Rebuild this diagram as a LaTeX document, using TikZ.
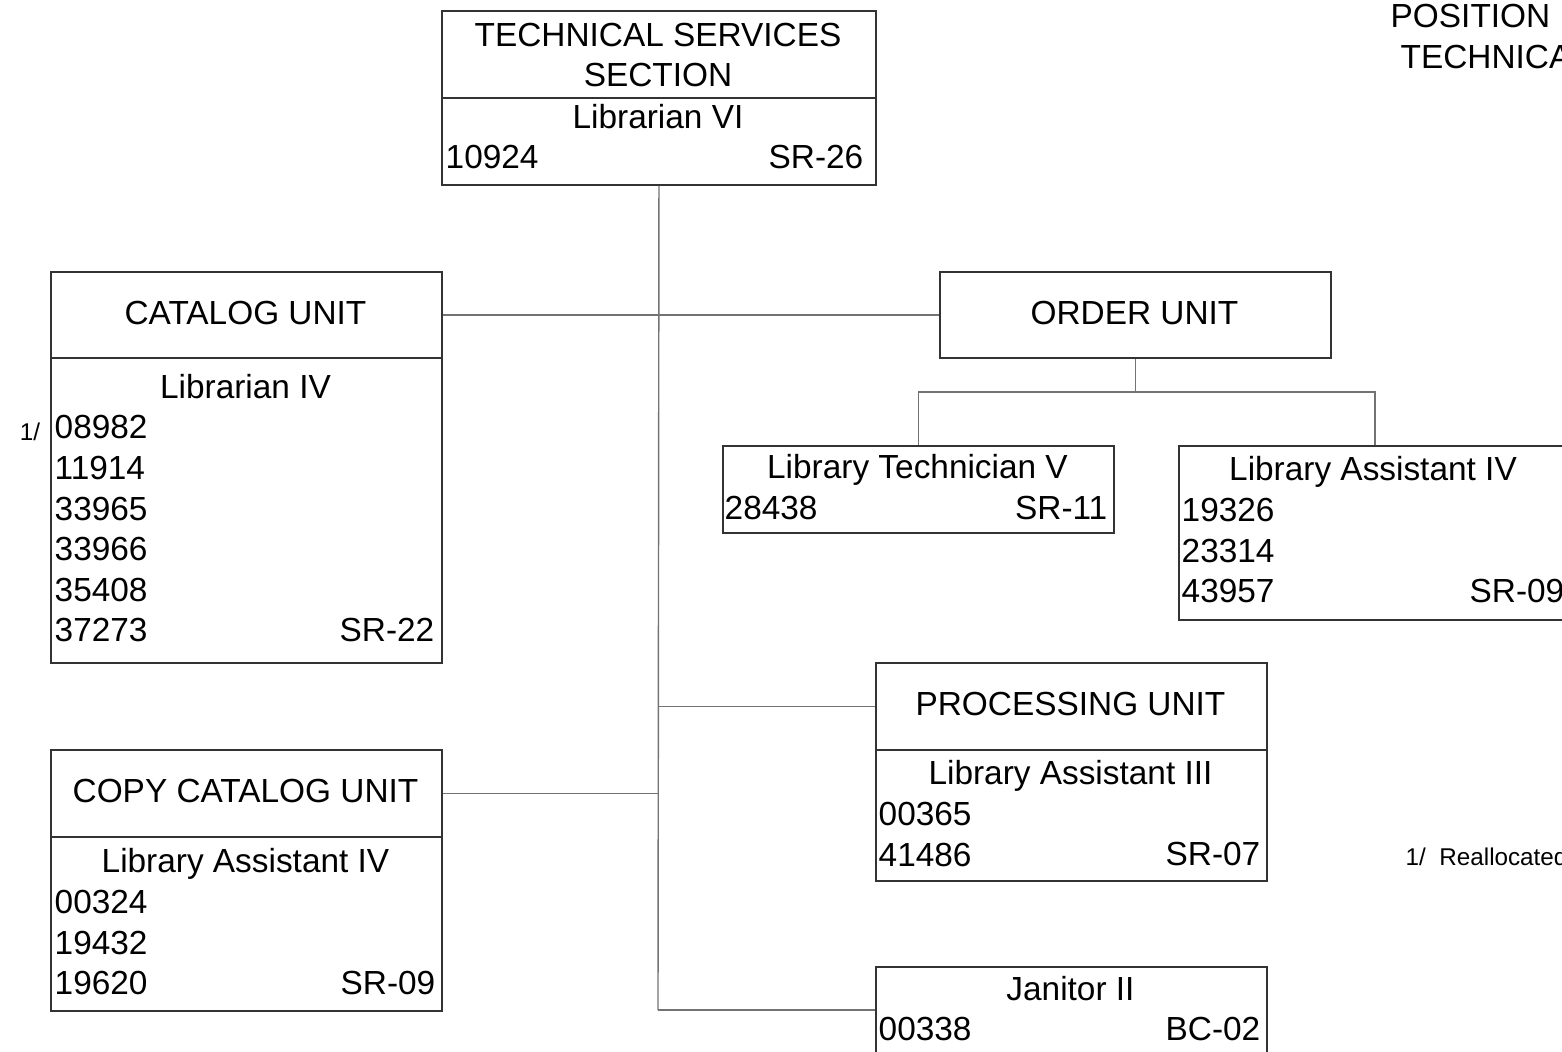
\documentclass[tikz,border=0pt]{standalone}
\usepackage{fontspec}
\setmainfont{Liberation Sans}
\tikzset{
  unitbox/.style={draw=black!80, line width=0.55pt, inner sep=0pt, anchor=north west, minimum width=39.1mm},
  link/.style={draw=black!55, line width=0.4pt},
  lbl/.style={font=\fontsize{9.5}{11}\selectfont, inner sep=0pt, text height=6.8pt, text depth=0pt},
  small/.style={font=\fontsize{6.9}{8}\selectfont, inner sep=0pt, text height=5pt, text depth=0pt}
}

\begin{document}
\begin{tikzpicture}[x=0.1mm, y=-0.1mm]
\useasboundingbox (0,0) rectangle (1562,1052);
\node[unitbox, minimum width=43.4mm, minimum height=8.7mm] (techhead) at (441,10) {};
\node[unitbox, minimum width=43.4mm, minimum height=8.7mm] (techbody) at (441,97) {};
\node[unitbox, minimum height=8.6mm] (cathead) at (50,271) {};
\node[unitbox, minimum height=30.5mm] (catbody) at (50,357) {};
\node[unitbox, minimum height=8.7mm] (copyhead) at (50,749) {};
\node[unitbox, minimum height=17.4mm] (copybody) at (50,836) {};
\node[unitbox, minimum height=8.6mm] (orderhead) at (939,271) {};
\node[unitbox, minimum height=8.7mm] (techv) at (722,445) {};
\node[unitbox, minimum width=39.2mm, minimum height=17.4mm] (assiv) at (1178,445) {};
\node[unitbox, minimum height=8.7mm] (prochead) at (875,662) {};
\node[unitbox, minimum height=13.1mm] (procbody) at (875,749) {};
\node[unitbox, minimum height=9.4mm] (janitor) at (875,966) {};

\coordinate (trunkend) at (658,1010);
\draw[link] (techbody.south) -- (trunkend);
\draw[link] (cathead.east) -- (orderhead.west);
\draw[link] (copyhead.east) -- (copyhead.east -| techbody.south);
\draw[link] (prochead.west) -- (prochead.west -| techbody.south);
\draw[link] (trunkend) -- (trunkend -| janitor.west);
\draw[link] (orderhead.south) -- ++(0,33) coordinate (fork);
\draw[link] (techv.north) |- (fork) -| (assiv.north);

\node[lbl] (techt1) at (658,35) {TECHNICAL SERVICES};
\node[lbl] (techt2) at (658,75) {SECTION};
\node[lbl] (techt3) at (658,117) {Librarian VI};
\node[lbl, anchor=west] (techno) at (445,157) {10924};
\node[lbl, anchor=east] (techsr) at (864,157) {SR-26};

\node[lbl] (catt) at (245.5,313) {CATALOG UNIT};
\node[lbl] (catpos) at (245.5,387) {Librarian IV};
\foreach \num [count=\i] in {08982,11914,33965,33966,35408,37273}
  \node[lbl, anchor=west] (catno\i) at (54,386.4+40.6*\i) {\num};
\node[lbl, anchor=east] (catsr) at (435,630) {SR-22};
\node[small] (catnote) at (30,432) {1/};

\node[lbl] (copyt) at (245.5,791) {COPY CATALOG UNIT};
\node[lbl] (copypos) at (245.5,861) {Library Assistant IV};
\foreach \num [count=\i] in {00324,19432,19620}
  \node[lbl, anchor=west] (copyno\i) at (54,861+40.6*\i) {\num};
\node[lbl, anchor=east] (copysr) at (436,983) {SR-09};

\node[lbl] (ordert) at (1134.5,313) {ORDER UNIT};
\node[lbl] (techvpos) at (917.5,467) {Library Technician V};
\node[lbl, anchor=west] (techvno) at (724,508) {28438};
\node[lbl, anchor=east] (techvsr) at (1108,508) {SR-11};
\node[lbl] (assivpos) at (1373,469) {Library Assistant IV};
\foreach \num [count=\i] in {19326,23314,43957}
  \node[lbl, anchor=west] (assivno\i) at (1181,469+40.6*\i) {\num};
\node[lbl, anchor=east] (assivsr) at (1565,591) {SR-09};

\node[lbl] (proct) at (1070.5,704) {PROCESSING UNIT};
\node[lbl] (procpos) at (1070.5,773) {Library Assistant III};
\foreach \num [count=\i] in {00365,41486}
  \node[lbl, anchor=west] (procno\i) at (878,773+40.6*\i) {\num};
\node[lbl, anchor=east] (procsr) at (1261,854) {SR-07};

\node[lbl] (janpos) at (1070.5,989) {Janitor II};
\node[lbl, anchor=west] (janno) at (878,1029) {00338};
\node[lbl, anchor=east] (jansr) at (1261,1029) {BC-02};

\node[lbl, anchor=west] (title1) at (1390,16) {POSITION};
\node[lbl, anchor=west] (title2) at (1400,57) {TECHNICAL};
\node[small, anchor=west] (footnote) at (1405,857) {1/\ \ Reallocated};
\end{tikzpicture}
\end{document}
